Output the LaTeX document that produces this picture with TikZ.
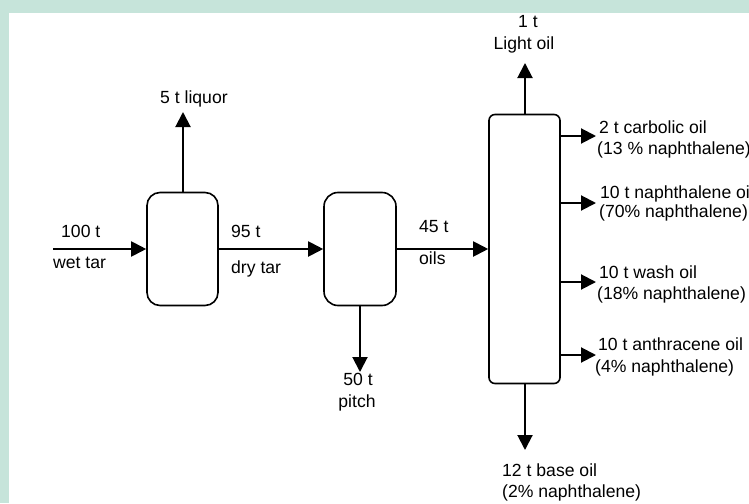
\documentclass[tikz,border=0pt]{standalone}
\usepackage{fontspec}
\setmainfont{Liberation Sans}
\usetikzlibrary{arrows.meta}
\definecolor{bgteal}{HTML}{C6E4DA}
\tikzset{
  flow/.style={line width=2pt,-{Triangle[length=15pt,width=15pt]}},
  unit/.style={draw,line width=1.6pt,rectangle,inner sep=0pt},
  lbl/.style={inner sep=0pt,font=\fontsize{17.6}{20}\selectfont},
}
\begin{document}
\begin{tikzpicture}[x=1pt,y=-1pt]
\useasboundingbox (0,0) rectangle (749,503);
\fill[bgteal] (0,0) rectangle (749,503);
\fill[white] (9,13) rectangle (749,503);

% units
\node[unit,rounded corners=13pt,minimum width=71pt,minimum height=113pt] (b1) at (182.5,249) {};
\node[unit,rounded corners=14pt,minimum width=72pt,minimum height=113pt] (b2) at (360,249) {};
\node[unit,rounded corners=6pt,minimum width=71pt,minimum height=269pt] (col) at (524.5,249) {};

% free ends
\coordinate (in) at (53,249);
\coordinate (liq) at (183,112);
\coordinate (pit) at (360,372);
\coordinate (lo) at (525,63);
\coordinate (bo) at (525,450);
\coordinate (s1) at (596,136);
\coordinate (s2) at (596,203);
\coordinate (s3) at (596,282);
\coordinate (s4) at (596,355);

% connectors
\draw[flow] (in) -- (b1.west);
\draw[flow] (b1.east) -- (b2.west);
\draw[flow] (b2.east) -- (col.west);
\draw[flow] (b1.north -| liq) -- (liq);
\draw[flow] (b2.south) -- (pit);
\draw[flow] (col.north -| lo) -- (lo);
\draw[flow] (col.south -| bo) -- (bo);
\draw[flow] (col.east |- s1) -- (s1);
\draw[flow] (col.east |- s2) -- (s2);
\draw[flow] (col.east |- s3) -- (s3);
\draw[flow] (col.east |- s4) -- (s4);

% labels
\node[lbl,anchor=base] (t1) at (528,28) {1 t};
\node[lbl,anchor=base] (t2) at (524,50) {Light oil};
\node[lbl,anchor=base west] (t3) at (160,103) {5 t liquor};
\node[lbl,anchor=base west] (t4) at (61,237) {100 t};
\node[lbl,anchor=base west] (t5) at (53,268) {wet tar};
\node[lbl,anchor=base west] (t6) at (231,237) {95 t};
\node[lbl,anchor=base west] (t7) at (231,273) {dry tar};
\node[lbl,anchor=base west] (t8) at (419,232) {45 t};
\node[lbl,anchor=base west] (t9) at (419,264) {oils};
\node[lbl,anchor=base] (t10) at (358,385) {50 t};
\node[lbl,anchor=base] (t11) at (357,407) {pitch};
\node[lbl,anchor=base west] (t12) at (599,133) {2 t carbolic oil};
\node[lbl,anchor=base west] (t13) at (597,154) {(13 \% naphthalene)};
\node[lbl,anchor=base west] (t14) at (600,198) {10 t naphthalene oil};
\node[lbl,anchor=base west] (t15) at (599,217) {(70\% naphthalene)};
\node[lbl,anchor=base west] (t16) at (599,278) {10 t wash oil};
\node[lbl,anchor=base west] (t17) at (597,299) {(18\% naphthalene)};
\node[lbl,anchor=base west] (t18) at (598,350) {10 t anthracene oil};
\node[lbl,anchor=base west] (t19) at (595,372) {(4\% naphthalene)};
\node[lbl,anchor=base west] (t20) at (502,476) {12 t base oil};
\node[lbl,anchor=base west] (t21) at (502,497) {(2\% naphthalene)};
\end{tikzpicture}
\end{document}
